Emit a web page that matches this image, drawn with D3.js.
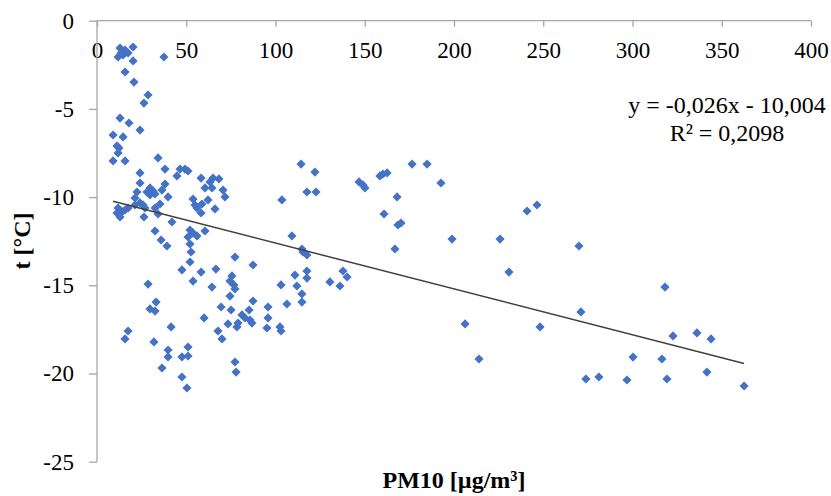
<!DOCTYPE html>
<html>
<head>
<meta charset="utf-8">
<script src="https://cdn.jsdelivr.net/npm/d3@7"></script>
<style>
  html, body { margin: 0; padding: 0; background: #fff; }
  svg text { font-family: "Liberation Serif", "Times New Roman", Times, serif !important; fill: #000; }
</style>
</head>
<body>
<svg id="chart" width="831" height="496"></svg>
<script>
// PM10 [µg/m³] values
const pm10 = [
  12.9, 15.7, 20.2, 11.8, 14.6, 17.4, 20.2, 13.4, 37.5, 15.7, 20.7, 28.6, 26.3, 12.9, 17.9, 24.1, 9.0, 14.6, 11.2, 12.3,
  11.8, 9.0, 15.7, 34.2, 24.1, 38.1, 46.5, 49.3, 51.0, 44.8, 58.3, 65.0, 68.3, 63.3, 24.1, 38.1, 29.7, 31.4, 28.0, 29.7,
  32.5, 22.4, 36.4, 60.5, 64.4, 70.6, 21.3, 39.8, 71.7, 53.8, 62.2, 54.9, 58.8, 56.0, 24.1, 25.8, 35.3, 11.8, 14.0, 11.2,
  12.9, 15.7, 17.4, 21.3, 26.9, 26.3, 32.5, 34.2, 66.1, 58.3, 42.0, 32.5, 52.1, 53.8, 51.0, 56.0, 60.5, 35.9, 39.2, 52.1,
  52.7, 77.3, 87.4, 52.1, 47.6, 58.3, 66.6, 28.6, 53.8, 64.4, 75.6, 74.5, 76.7, 103.1, 77.3, 74.5, 87.4, 33.1, 29.7, 32.5,
  69.5, 75.1, 95.8, 85.2, 81.2, 82.9, 85.7, 86.8, 95.8, 60.0, 73.4, 78.4, 79.0, 95.2, 102.5, 103.1, 17.4, 15.7, 41.5, 67.8,
  70.0, 31.9, 39.8, 39.8, 51.0, 47.6, 51.0, 36.4, 77.3, 77.9, 47.6, 50.4,
  114.3, 122.1, 117.6, 122.7, 103.6, 146.8, 149.0, 150.1, 158.5, 160.2, 162.5, 176.5, 184.9, 192.7, 168.1, 160.8, 168.6, 170.3,
  240.9, 246.5, 109.2, 114.8, 117.6, 115.4, 198.9, 225.8, 166.9, 230.8, 110.9, 117.6, 117.6, 112.0, 114.8, 114.8, 106.4, 130.5,
  137.8, 140.1, 136.1, 206.2, 248.2, 214.0, 270.0, 318.2, 271.1, 322.7, 336.1, 344.0, 300.3, 316.5, 273.9, 281.2, 296.9, 319.3,
  341.7, 362.5
];
// t [°C] values
const temp = [
  -1.55, -1.66, -1.49, -2.06, -1.94, -1.83, -2.28, -1.83, -2.06, -2.91, -3.48, -4.21, -4.67, -5.52, -5.80, -6.20, -6.48, -6.59, -7.10, -7.22,
  -7.50, -7.95, -7.95, -7.78, -8.63, -8.41, -8.41, -8.41, -8.52, -8.80, -8.92, -8.92, -8.97, -9.14, -9.20, -9.26, -9.48, -9.65, -9.71, -9.88,
  -9.82, -9.71, -9.60, -9.48, -9.48, -9.60, -10.05, -9.99, -9.99, -10.11, -10.16, -10.45, -10.39, -10.62, -10.33, -10.45, -10.39, -10.62, -10.84, -10.90,
  -11.13, -10.73, -10.62, -10.45, -10.62, -11.13, -10.62, -10.96, -10.67, -10.90, -11.41, -11.92, -11.87, -12.04, -12.26, -12.20, -11.92, -12.43, -12.77, -12.66,
  -13.11, -13.40, -13.85, -13.68, -14.13, -14.25, -14.08, -14.93, -14.76, -15.10, -14.47, -14.76, -14.98, -14.98, -15.21, -15.61, -15.89, -15.95, -16.34, -16.46,
  -16.23, -16.40, -16.23, -16.40, -16.68, -16.85, -16.97, -17.14, -16.85, -16.85, -17.19, -17.36, -17.14, -17.42, -17.36, -17.59, -17.59, -18.04, -17.36, -17.59,
  -18.04, -18.21, -18.67, -19.06, -18.50, -19.06, -19.01, -19.69, -19.35, -19.92, -20.20, -20.82,
  -8.13, -8.58, -9.71, -9.71, -10.16, -9.14, -9.31, -9.48, -8.80, -8.69, -8.63, -8.13, -8.13, -9.20, -9.99, -10.96, -11.58, -11.47,
  -10.79, -10.45, -12.20, -12.94, -13.28, -13.11, -12.38, -12.38, -12.94, -14.25, -14.42, -14.19, -14.59, -15.04, -15.49, -15.95, -16.06, -14.81,
  -14.19, -14.53, -15.04, -17.19, -17.36, -19.18, -12.77, -15.10, -16.51, -17.87, -17.70, -18.04, -19.07, -19.18, -20.31, -20.20, -20.37, -20.31,
  -19.92, -20.71
];
const xTicks = [0, 50, 100, 150, 200, 250, 300, 350, 400];
const yTicks = [0, -5, -10, -15, -20, -25];
const trendSlope = -0.026;
const trendIntercept = -10.004;
const eqLabel = "y = -0,026x - 10,004";
const r2Label = "R² = 0,2098";
const xTitle = "PM10 [µg/m³]";
const yTitle = "t [°C]";

const points = pm10.map((x, i) => ({ x, y: temp[i] }));

const svg = d3.select("#chart");
const x = d3.scaleLinear().domain([0, 400]).range([97, 811]);
const y = d3.scaleLinear().domain([-25, 0]).range([461.7, 20.7]);
const axisColor = "#a6a6a6";
const fs = 23;
const fmt = d => String(d); // keep ASCII hyphen-minus like the original

// X axis at top (y = 0), ticks downward
const xAxis = svg.append("g").attr("transform", `translate(0,${y(0)})`)
  .call(d3.axisBottom(x).tickValues(xTicks).tickSize(6).tickFormat(fmt));
xAxis.attr("font-family", null).attr("font-size", null);
xAxis.select(".domain").attr("stroke", axisColor).attr("stroke-width", 1.3)
  .attr("d", `M${x(0)},0H${x(400)}`);
xAxis.selectAll(".tick line").attr("stroke", axisColor).attr("stroke-width", 1.3);
xAxis.selectAll(".tick text").style("font-size", fs + "px")
  .attr("y", 0).attr("dy", null).attr("transform", "translate(0,37)");

// Y axis
const yAxis = svg.append("g").attr("transform", `translate(${x(0)},0)`)
  .call(d3.axisLeft(y).tickValues(yTicks).tickSize(8).tickPadding(15).tickFormat(fmt));
yAxis.attr("font-family", null).attr("font-size", null);
yAxis.select(".domain").attr("stroke", axisColor).attr("stroke-width", 1.3)
  .attr("d", `M0,${y(-25)}V${y(0)}`);
yAxis.selectAll(".tick line").attr("stroke", axisColor).attr("stroke-width", 1.3);
yAxis.selectAll(".tick text").style("font-size", fs + "px").attr("dy", "0.32em");

// Points
svg.append("g").selectAll("path").data(points).join("path")
  .attr("d", d3.symbol(d3.symbolSquare, 42))
  .attr("transform", d => `translate(${x(d.x)},${y(d.y)}) rotate(45)`)
  .attr("fill", "#4472C4");

// Trend line
const xMin = d3.min(pm10), xMax = d3.max(pm10);
svg.append("line")
  .attr("x1", x(xMin)).attr("y1", y(trendSlope * xMin + trendIntercept))
  .attr("x2", x(xMax)).attr("y2", y(trendSlope * xMax + trendIntercept))
  .attr("stroke", "#404040").attr("stroke-width", 1.5);

// Equation
svg.append("text").attr("x", 727).attr("y", 113).attr("text-anchor", "middle")
  .style("font-size", "24px").text(eqLabel);
svg.append("text").attr("x", 727).attr("y", 141).attr("text-anchor", "middle")
  .style("font-size", "24px").text(r2Label);

// Axis titles
svg.append("text").attr("x", 454).attr("y", 488).attr("text-anchor", "middle")
  .style("font-size", "24px").style("font-weight", "bold").text(xTitle);
svg.append("text").attr("transform", "translate(30,241) rotate(-90)").attr("text-anchor", "middle")
  .style("font-size", "24px").style("font-weight", "bold").text(yTitle);
</script>
</body>
</html>
